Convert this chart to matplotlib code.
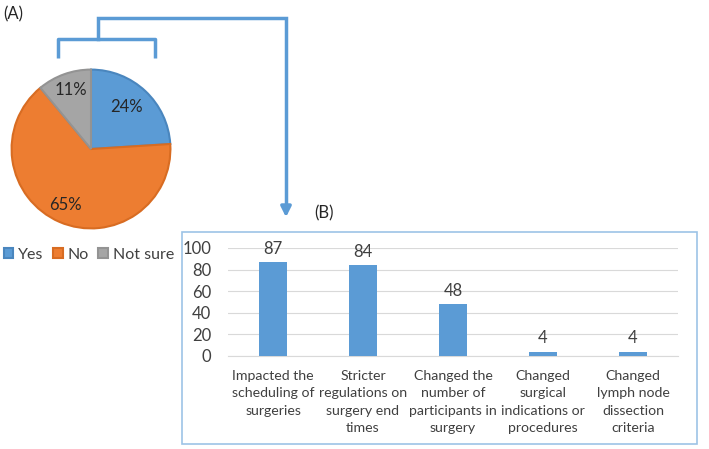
import matplotlib
matplotlib.use("Agg")
import matplotlib.pyplot as plt
from matplotlib.patches import Rectangle

# (A) pie data
pie_labels = ["Yes", "No", "Not sure"]
pie_values = [24, 65, 11]
pie_colors = ["#5B9BD5", "#ED7D31", "#A5A5A5"]
pie_edges = ["#4A86BE", "#D86C22", "#939393"]

# (B) bar data
bar_labels = [
    "Impacted the\nscheduling of\nsurgeries",
    "Stricter\nregulations on\nsurgery end\ntimes",
    "Changed the\nnumber of\nparticipants in\nsurgery",
    "Changed\nsurgical\nindications or\nprocedures",
    "Changed\nlymph node\ndissection\ncriteria",
]
bar_values = [87, 84, 48, 4, 4]
y_ticks = [0, 20, 40, 60, 80, 100]

plt.rcParams["font.family"] = ["Lato", "DejaVu Sans"]
W, H = 709, 449
fig = plt.figure(figsize=(W / 100, H / 100), dpi=100)


def px(x0, y0, x1, y1):
    # pixel box (top-left origin) -> figure fraction rect
    return [x0 / W, 1 - y1 / H, (x1 - x0) / W, (y1 - y0) / H]


# overlay for connectors, frame and panel letters
ov = fig.add_axes([0, 0, 1, 1])
ov.set_xlim(0, W)
ov.set_ylim(H, 0)
ov.axis("off")
blue = "#5B9BD5"
ov.plot([58, 58, 155, 155], [58, 39, 39, 58], color=blue, lw=2.5, solid_capstyle="butt")
ov.plot([98, 98, 286, 286], [39, 18, 18, 208], color=blue, lw=2.5, solid_joinstyle="miter")
ov.annotate("", xy=(286, 220), xytext=(286, 205),
            arrowprops=dict(arrowstyle="-|>,head_length=0.6,head_width=0.3", color=blue, lw=2.5))
ov.add_patch(Rectangle((182, 232), 515, 212, fill=False, edgecolor="#9DC3E6", lw=1.2))
ov.text(3, 14, "(A)", fontsize=12, color="#262626", va="center")
ov.text(314, 213, "(B)", fontsize=12, color="#262626", va="center")

# pie
axp = fig.add_axes(px(10, 68, 172, 230))
wedges, texts = axp.pie(pie_values, colors=pie_colors, startangle=90, counterclock=False,
                        wedgeprops=dict(linewidth=1.5))
for w, ec in zip(wedges, pie_edges):
    w.set_edgecolor(ec)
pct_pos = [(0.45, 0.53), (-0.32, -0.7), (-0.25, 0.74)]
for v, (x, y) in zip(pie_values, pct_pos):
    axp.text(x, y, f"{v}%", ha="center", va="center", fontsize=12, color="#262626")
axp.set_xlim(-1.02, 1.02)
axp.set_ylim(-1.02, 1.02)
axp.legend(wedges, pie_labels, ncol=3, loc="center", bbox_to_anchor=(89 / W, 1 - 255 / H),
           bbox_transform=fig.transFigure, frameon=False, handlelength=0.6, handleheight=0.6,
           columnspacing=0.6, handletextpad=0.3, fontsize=11.5, labelcolor="#404040",
           borderpad=0.1)

# bars
axb = fig.add_axes(px(228, 248, 678, 356))
x = range(len(bar_values))
bars = axb.bar(x, bar_values, width=0.31, color=blue, zorder=3)
for b, v in zip(bars, bar_values):
    axb.text(b.get_x() + b.get_width() / 2, v + 5, str(v), ha="center", va="bottom",
             fontsize=12, color="#404040")
axb.set_xlim(-0.5, len(bar_values) - 0.5)
axb.set_ylim(0, 100)
axb.set_yticks(y_ticks)
axb.set_xticks(list(x))
axb.set_xticklabels(bar_labels, fontsize=10.2, color="#404040", linespacing=1.55, va="top")
axb.tick_params(axis="y", labelsize=12, labelcolor="#404040", length=0, pad=12)
axb.tick_params(axis="x", length=0, pad=10)
axb.grid(axis="y", color="#D9D9D9", lw=0.8, zorder=0)
for s in ["top", "right", "left"]:
    axb.spines[s].set_visible(False)
axb.spines["bottom"].set_color("#D9D9D9")
axb.set_facecolor("none")

fig.savefig("out.png", dpi=100)
